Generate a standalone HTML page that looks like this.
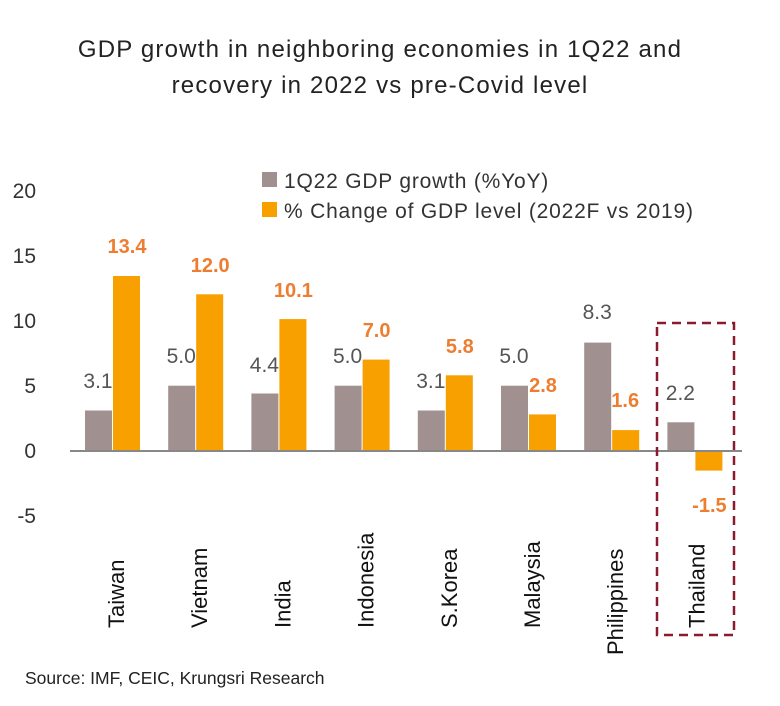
<!DOCTYPE html>
<html><head><meta charset="utf-8"><style>
body{margin:0;background:#fff}
svg{display:block}
text{font-family:"Liberation Sans",sans-serif}
</style></head><body>
<svg width="780" height="706" xmlns="http://www.w3.org/2000/svg">
<text x="380" y="57" font-size="24" letter-spacing="1.2" text-anchor="middle" fill="#222">GDP growth in neighboring economies in 1Q22 and</text>
<text x="380" y="93" font-size="24" letter-spacing="1.2" text-anchor="middle" fill="#222">recovery in 2022 vs pre-Covid level</text>
<g font-size="21" fill="#333" text-anchor="end">
<text x="36" y="198">20</text><text x="36" y="263">15</text><text x="36" y="328">10</text>
<text x="36" y="393">5</text><text x="36" y="458">0</text><text x="36" y="523">-5</text>
</g>
<rect x="262" y="172" width="15" height="15" fill="#a09090"/>
<text x="284" y="188" font-size="21" letter-spacing="0.8" fill="#333">1Q22 GDP growth (%YoY)</text>
<rect x="262" y="202" width="15" height="15" fill="#f7a000"/>
<text x="284" y="218" font-size="21" letter-spacing="0.8" fill="#333">% Change of GDP level (2022F vs 2019)</text>

<g fill="#a09090">
<rect x="85" y="410.5" width="27" height="40.5"/>
<rect x="168.2" y="385.7" width="27" height="65.3"/>
<rect x="251.4" y="393.5" width="27" height="57.5"/>
<rect x="334.6" y="385.7" width="27" height="65.3"/>
<rect x="417.8" y="410.5" width="27" height="40.5"/>
<rect x="501" y="385.7" width="27" height="65.3"/>
<rect x="584.2" y="342.6" width="27" height="108.4"/>
<rect x="667.4" y="422.3" width="27" height="28.7"/>
</g>
<g fill="#f7a000">
<rect x="113" y="276" width="27" height="175"/>
<rect x="196.2" y="294.3" width="27" height="156.7"/>
<rect x="279.4" y="319.1" width="27" height="131.9"/>
<rect x="362.6" y="359.6" width="27" height="91.4"/>
<rect x="445.8" y="375.3" width="27" height="75.7"/>
<rect x="529" y="414.4" width="27" height="36.6"/>
<rect x="612.2" y="430.1" width="27" height="20.9"/>
<rect x="695.4" y="451" width="27" height="19.6"/>
</g>
<g font-size="21" fill="#555" text-anchor="middle">
<text x="98" y="388">3.1</text>
<text x="181.2" y="363">5.0</text>
<text x="264.4" y="372">4.4</text>
<text x="347.6" y="363">5.0</text>
<text x="430.8" y="388">3.1</text>
<text x="514" y="363">5.0</text>
<text x="597.2" y="319">8.3</text>
<text x="680.4" y="400">2.2</text>
</g>
<g font-size="20" font-weight="bold" fill="#ed7d31" text-anchor="middle">
<text x="127" y="253">13.4</text>
<text x="210.2" y="272">12.0</text>
<text x="293.4" y="297">10.1</text>
<text x="376.6" y="337">7.0</text>
<text x="459.8" y="353">5.8</text>
<text x="543" y="392">2.8</text>
<text x="625.2" y="407">1.6</text>
<text x="709.4" y="512">-1.5</text>
</g>
<g font-size="22" fill="#111">
<text transform="translate(124,628) rotate(-90)">Taiwan</text>
<text transform="translate(207.2,628) rotate(-90)">Vietnam</text>
<text transform="translate(290.4,628) rotate(-90)">India</text>
<text transform="translate(373.6,628) rotate(-90)">Indonesia</text>
<text transform="translate(456.8,628) rotate(-90)">S.Korea</text>
<text transform="translate(540,628) rotate(-90)">Malaysia</text>
<text transform="translate(623.2,655) rotate(-90)">Philippines</text>
<text transform="translate(704.4,628) rotate(-90)">Thailand</text>
</g>
<line x1="70" y1="451" x2="742" y2="451" stroke="#888" stroke-width="2"/>
<rect x="657" y="323" width="77" height="312" fill="none" stroke="#8b1a2e" stroke-width="2.5" stroke-dasharray="9,6"/>
<text x="25" y="684" font-size="17.5" fill="#222">Source: IMF, CEIC, Krungsri Research</text>
</svg>
</body></html>
